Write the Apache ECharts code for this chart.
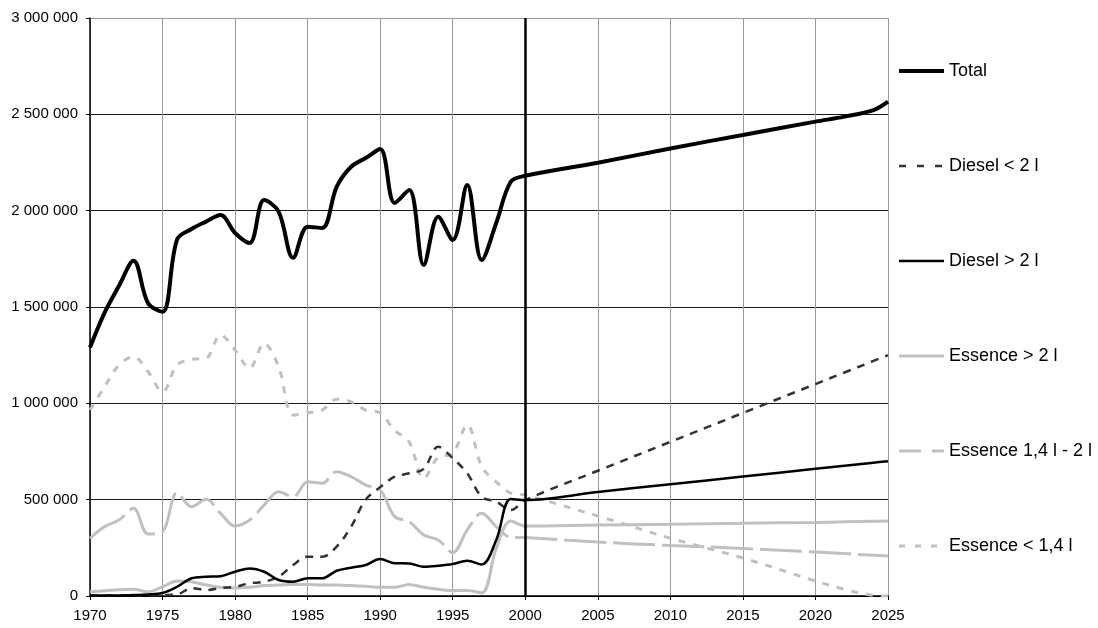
<!DOCTYPE html>
<html>
<head>
<meta charset="utf-8">
<script src="https://cdn.jsdelivr.net/npm/echarts@6/dist/echarts.min.js"></script>
<style>
  html, body { margin: 0; padding: 0; background: #fff; }
  #chart { width: 1098px; height: 628px; }
</style>
</head>
<body>
<div id="chart"></div>
<script>
// ---- Data (values in thousands of units) ----
const histYears = [1970,1971,1972,1973,1974,1975,1976,1977,1978,1979,1980,1981,1982,1983,1984,1985,1986,1987,1988,1989,1990,1991,1992,1993,1994,1995,1996,1997,1998,1999,2000];
const projYears = [2005,2010,2015,2020,2022,2024,2025];

const totalHist      = [1290,1470,1610,1740,1520,1475,1850,1905,1943,1977,1884,1832,2055,1995,1755,1917,1910,2124,2228,2273,2320,2040,2107,1718,1969,1848,2133,1744,1936,2150,2181];
const totalProj      = [2249,2323,2393,2462,2488,2522,2566];

const dieselSmallHist = [3,3,3,3,3,5,8,41,31,41,48,66,74,100,161,204,204,256,360,500,565,619,637,660,775,715,637,515,490,446,498];
const dieselSmallProj = [650,800,950,1100,1160,1220,1250];

const dieselLargeHist = [3,3,3,5,8,16,48,92,100,103,126,143,126,83,74,92,92,131,147,161,192,170,169,152,157,166,183,164,291,503,498];
const dieselLargeProj = [540,580,620,660,676,692,700];

const essLargeHist   = [22,27,33,35,22,48,78,74,57,45,41,45,54,57,60,60,57,57,54,50,45,45,60,45,35,28,28,16,247,389,363];
const essLargeProj   = [368,372,378,382,385,388,389];

const essMidHist     = [299,360,394,455,322,334,536,463,502,429,363,394,472,541,515,593,585,645,619,576,550,412,386,317,291,225,343,429,360,305,303];
const essMidProj     = [280,262,247,228,220,212,208];

const essSmallHist   = [965,1086,1199,1242,1164,1060,1199,1228,1234,1355,1277,1182,1311,1190,939,951,965,1021,1008,965,950,860,800,610,720,740,888,671,592,534,524];
const essSmallProj   = [415,300,197,78,35,3,0];

const seriesNames = ['Total','Diesel < 2 l','Diesel > 2 l','Essence > 2 l','Essence 1,4 l - 2 l','Essence < 1,4 l'];
const dividerYear = 2000;
const yTicks = { min: 0, max: 3000000, step: 500000 };
const xTicks = { min: 1970, max: 2025, step: 5 };

function pairs(hist, proj) {
  const out = histYears.map((y, i) => [y, hist[i] * 1000]);
  projYears.forEach((y, i) => out.push([y, proj[i] * 1000]));
  return out;
}

const FONT = '"Liberation Sans", Arial, sans-serif';
const GRAY = '#c0c0c0';
const DARK = '#333333';

function fmt(v) { return String(v).replace(/\B(?=(\d{3})+(?!\d))/g, ' '); }

const styles = [
  { color: '#000', width: 4,   type: 'solid', z: 6 },
  { color: DARK,   width: 2.5, type: [8, 7], z: 4 },
  { color: '#000', width: 2.5, type: 'solid', z: 5 },
  { color: GRAY,   width: 3,   type: 'solid', z: 3 },
  { color: GRAY,   width: 3,   type: [42, 7], z: 3 },
  { color: GRAY,   width: 3,   type: [7, 8], z: 2 }
];
const legendDash = ['solid', [7, 11], 'solid', 'solid', [22, 11], [6, 10]];
const dataSets = [
  pairs(totalHist, totalProj),
  pairs(dieselSmallHist, dieselSmallProj),
  pairs(dieselLargeHist, dieselLargeProj),
  pairs(essLargeHist, essLargeProj),
  pairs(essMidHist, essMidProj),
  pairs(essSmallHist, essSmallProj)
];

const series = seriesNames.map((name, i) => {
  const s = {
    name: name,
    type: 'line',
    data: dataSets[i],
    smooth: 0.35,
    symbol: 'none',
    showSymbol: false,
    z: styles[i].z,
    lineStyle: { color: styles[i].color, width: styles[i].width, type: styles[i].type, cap: 'butt' },
    itemStyle: { color: styles[i].color },
    emphasis: { disabled: true },
    animation: false
  };
  if (i === 0) {
    s.markLine = {
      silent: true,
      symbol: 'none',
      label: { show: false },
      lineStyle: { color: '#000', width: 2.5, type: 'solid' },
      data: [{ xAxis: dividerYear }],
      animation: false
    };
  }
  return s;
});

const chart = echarts.init(document.getElementById('chart'), null, { renderer: 'canvas' });
chart.setOption({
  animation: false,
  backgroundColor: '#fff',
  textStyle: { fontFamily: FONT },
  grid: { left: 90, right: 210, top: 18, bottom: 32, containLabel: false },
  legend: {
    orient: 'vertical',
    left: 892,
    top: 57,
    itemWidth: 45,
    itemHeight: 18,
    itemGap: 77,
    selectedMode: false,
    textStyle: { fontFamily: FONT, fontSize: 18, color: '#000' },
    data: seriesNames.map((n, i) => ({
      name: n,
      itemStyle: { opacity: 0 },
      lineStyle: { color: styles[i].color, width: styles[i].width, type: legendDash[i], cap: 'butt' }
    }))
  },
  xAxis: {
    type: 'value',
    min: xTicks.min,
    max: xTicks.max,
    interval: xTicks.step,
    axisLine: { show: true, onZero: false, lineStyle: { color: '#000', width: 1.5 } },
    axisTick: { show: true, length: 4, lineStyle: { color: '#000', width: 1 } },
    axisLabel: { fontFamily: FONT, fontSize: 15, color: '#000', margin: 12, formatter: v => String(v) },
    splitLine: { show: true, lineStyle: { color: '#9a9a9a', width: 1 } }
  },
  yAxis: {
    type: 'value',
    min: yTicks.min,
    max: yTicks.max,
    interval: yTicks.step,
    axisLine: { show: true, lineStyle: { color: '#000', width: 1.5 } },
    axisTick: { show: true, length: 4, lineStyle: { color: '#000', width: 1 } },
    axisLabel: { fontFamily: FONT, fontSize: 15, color: '#000', margin: 12, formatter: v => fmt(v) },
    splitLine: { show: true, lineStyle: { color: ['#000', '#1a1a1a', '#1a1a1a', '#1a1a1a', '#1a1a1a', '#1a1a1a', '#9a9a9a'], width: 1 } }
  },
  series: series
});
</script>
</body>
</html>
